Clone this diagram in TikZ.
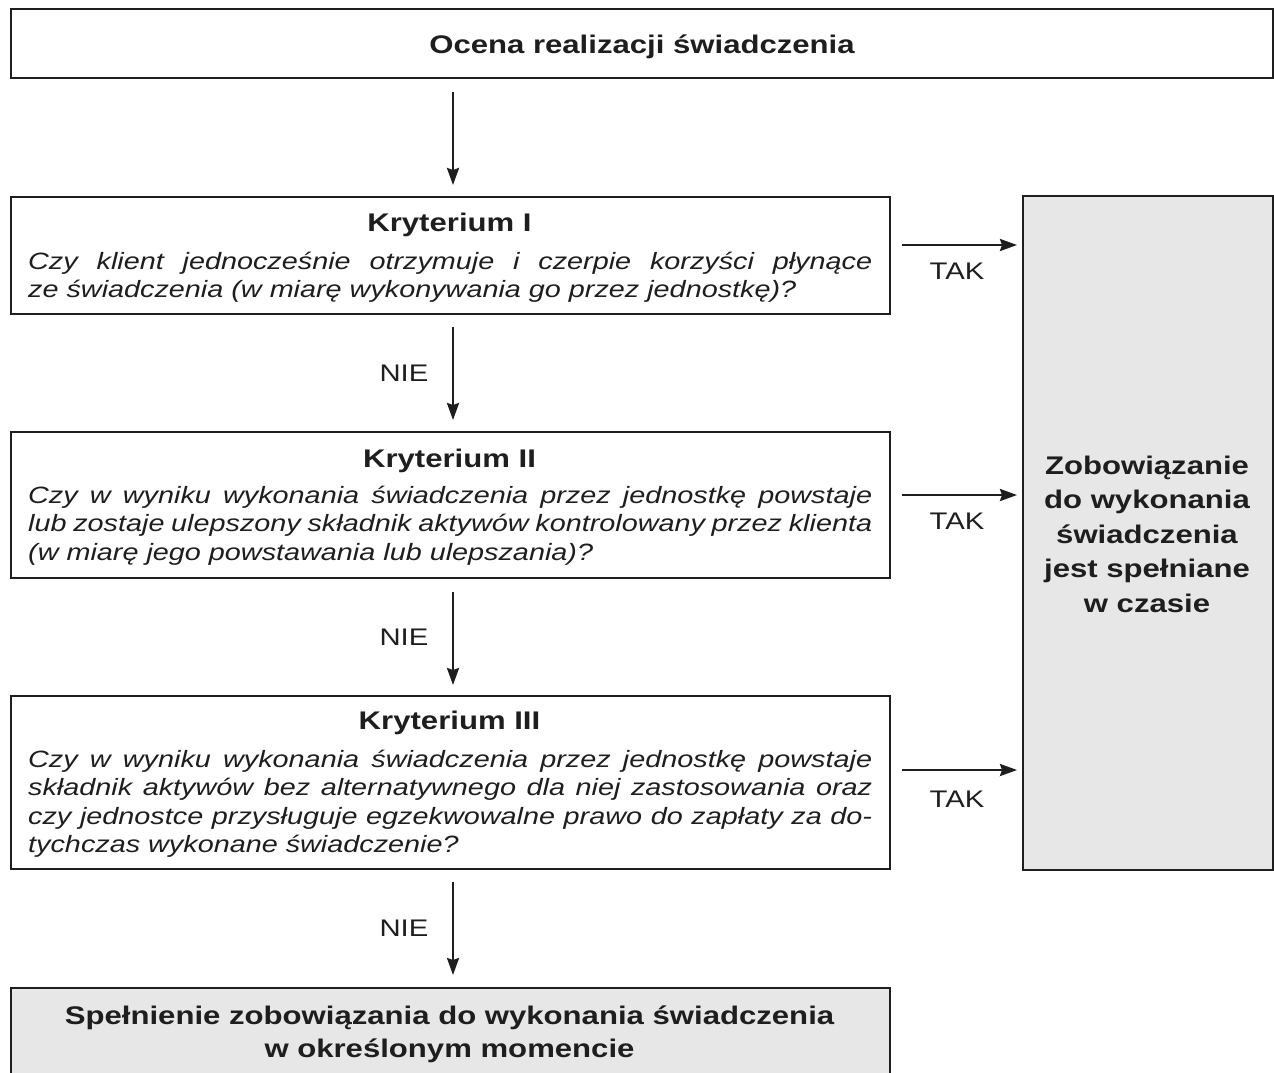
\documentclass[tikz,border=0pt]{standalone}
\usepackage{fontspec}
\setmainfont{Liberation Sans}[FakeStretch=1.22]
\usetikzlibrary{arrows.meta}
\definecolor{boxgray}{HTML}{E6E7E6}
\definecolor{ink}{HTML}{1E1E1E}
\tikzset{
  box/.style={draw=ink, line width=2.4pt, rectangle, inner sep=0pt, anchor=north west},
  ttl/.style={anchor=base, inner sep=0pt, text=ink, font=\fontsize{25.5pt}{34.5pt}\selectfont\bfseries},
  ttlm/.style={anchor=base, inner sep=0pt, text=ink, font=\fontsize{25.5pt}{33pt}\selectfont\bfseries},
  body/.style={anchor=base west, inner sep=0pt, text=ink, font=\fontsize{23.6pt}{28.5pt}\selectfont\itshape},
  lbl/.style={anchor=base, inner sep=0pt, text=ink, font=\fontsize{24pt}{28.5pt}\selectfont},
  arr/.style={draw=ink, line width=2.4pt, -{Stealth[length=17pt,width=12pt,inset=2pt]}}
}
\newcommand{\jl}[1]{\makebox[844pt][s]{#1}}
\begin{document}
\begin{tikzpicture}[x=1pt,y=-1pt]
\useasboundingbox (0,0) rectangle (1274,1072);
\fill[white] (0,0) rectangle (1274,1072);
% boxes
\node[box, minimum width=1262pt, minimum height=69pt] (top) at (10,8) {};
\node[box, minimum width=879pt, minimum height=117pt] (k1) at (10,196) {};
\node[box, minimum width=879pt, minimum height=146pt] (k2) at (10,431) {};
\node[box, minimum width=879pt, minimum height=173pt] (k3) at (10,695) {};
\node[box, fill=boxgray, minimum width=250pt, minimum height=674pt] (zob) at (1022,195) {};
\node[box, fill=boxgray, minimum width=879pt, minimum height=110pt] (bot) at (10,987) {};
% texts
\node[ttl] (topt) at (642,53) {Ocena realizacji świadczenia};
\node[ttl] (k1t) at (449.5,231) {Kryterium I};
\node[body] (k1b) at (28,269) {\parbox[t]{844pt}{%
\jl{Czy klient jednocześnie otrzymuje i czerpie korzyści płynące}\\
ze świadczenia (w miarę wykonywania go przez jednostkę)?}};
\node[ttl] (k2t) at (449.5,467) {Kryterium II};
\node[body] (k2b) at (28,503) {\parbox[t]{844pt}{%
\jl{Czy w wyniku wykonania świadczenia przez jednostkę powstaje}\\
\jl{lub zostaje ulepszony składnik aktywów kontrolowany przez klienta}\\
(w miarę jego powstawania lub ulepszania)?}};
\node[ttl] (k3t) at (449.5,729) {Kryterium III};
\node[body] (k3b) at (28,767) {\parbox[t]{844pt}{%
\jl{Czy w wyniku wykonania świadczenia przez jednostkę powstaje}\\
\jl{składnik aktywów bez alternatywnego dla niej zastosowania oraz}\\
\jl{czy jednostce przysługuje egzekwowalne prawo do zapłaty za do-}\\
tychczas wykonane świadczenie?}};
\node[ttl] (zobt) at (1147,474) {\parbox[t]{240pt}{\centering
Zobowiązanie\\do wykonania\\świadczenia\\jest spełniane\\w czasie}};
\node[ttlm] (bott) at (449.5,1024) {\parbox[t]{870pt}{\centering
Spełnienie zobowiązania do wykonania świadczenia\\w określonym momencie}};
% connectors
\coordinate (ax) at (453,0);
\coordinate (t1) at (0,245);
\coordinate (t2) at (0,495);
\coordinate (t3) at (0,770);
\draw[arr, shorten <=13pt, shorten >=11pt] (top.south -| ax) -- (k1.north -| ax);
\draw[arr, shorten <=12pt, shorten >=11pt] (k1.south -| ax) -- node[lbl, pos=0.5, xshift=-49pt, yshift=-8pt] (n1) {NIE} (k2.north -| ax);
\draw[arr, shorten <=13pt, shorten >=10pt] (k2.south -| ax) -- node[lbl, pos=0.5, xshift=-49pt, yshift=-8pt] (n2) {NIE} (k3.north -| ax);
\draw[arr, shorten <=12pt, shorten >=12pt] (k3.south -| ax) -- node[lbl, pos=0.5, xshift=-49pt, yshift=-8pt] (n3) {NIE} (bot.north -| ax);
\draw[arr, shorten <=11pt, shorten >=5pt] (k1.east |- t1) -- (zob.west |- t1);
\draw[arr, shorten <=11pt, shorten >=5pt] (k2.east |- t2) -- (zob.west |- t2);
\draw[arr, shorten <=11pt, shorten >=5pt] (k3.east |- t3) -- (zob.west |- t3);
\node[lbl] (tak1) at (957,279) {TAK};
\node[lbl] (tak2) at (957,529) {TAK};
\node[lbl] (tak3) at (957,807) {TAK};
\end{tikzpicture}
\end{document}
